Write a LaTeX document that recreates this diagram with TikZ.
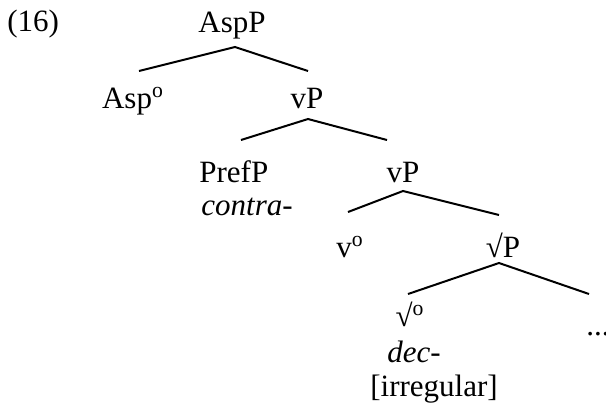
\documentclass[tikz,border=0pt]{standalone}
\usepackage{fontspec}
\setmainfont{Liberation Serif}
\usetikzlibrary{calc}
\begin{document}
\begin{tikzpicture}[x=0.5pt,y=-0.5pt,
  lab/.style={anchor=base,inner sep=0pt,font=\fontsize{15.5}{18.6}\selectfont},
  edge/.style={line width=1pt}]
\useasboundingbox (0,0) rectangle (606,409);
\node[lab,anchor=base west] (num) at (7,31) {(16)};
\node[lab] (asp) at (232,32) {AspP};
\node[lab] (aspo) at (133,108) {Asp\textsuperscript{o}};
\node[lab] (vp1) at (307,108) {vP};
\node[lab,anchor=base west] (pref) at (199,182) {PrefP};
\node[lab,anchor=base west] (contra) at (201,215) {\textit{contra}-};
\node[lab] (vp2) at (403,182) {vP};
\node[lab] (vo) at (350,257) {v\textsuperscript{o}};
\node[lab] (rp) at (503,257) {√P};
\node[lab] (ro) at (410,326) {√\textsuperscript{o}};
\node[lab,anchor=base west] (dots) at (586,335) {...};
\node[lab] (dec) at (414,362) {\textit{dec}-};
\node[lab] (irr) at (434,396) {[irregular]};
\draw[edge] ($(aspo.base)+(6,-37)$) -- ($(asp.base)+(3,15)$) -- ($(vp1.base)+(1,-37)$);
\draw[edge] ($(pref.base west)+(42,-42)$) -- ($(vp1.base)+(1,11)$) -- ($(vp2.base)+(-16,-42)$);
\draw[edge] ($(vo.base)+(-2,-45)$) -- ($(vp2.base)+(0,9)$) -- ($(rp.base)+(-4,-42)$);
\draw[edge] ($(ro.base)+(-2,-32)$) -- ($(rp.base)+(-4,6)$) -- ($(dots.base west)+(3,-41)$);
\end{tikzpicture}
\end{document}
